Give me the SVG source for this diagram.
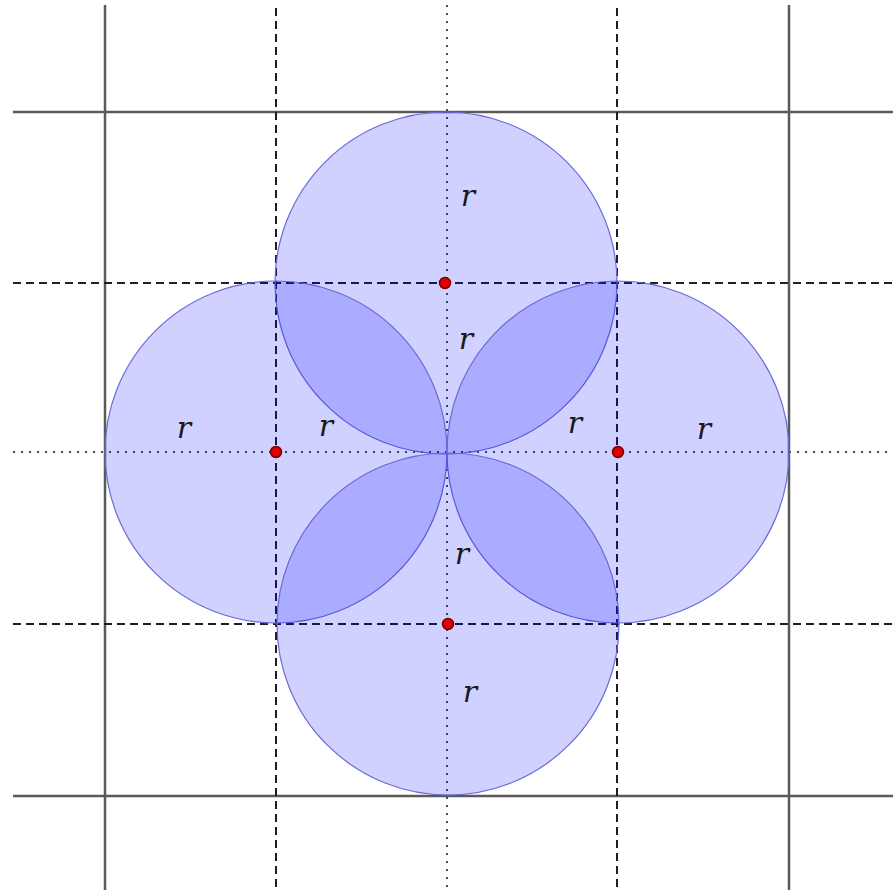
<svg xmlns="http://www.w3.org/2000/svg" width="893" height="890" viewBox="0 0 893 890">
<style>
.solid{stroke:#5a5a5a;stroke-width:2.5;fill:none}
.dash{stroke:#1e1e28;stroke-width:2;stroke-dasharray:8 5;fill:none}
.dot{stroke:#4a4a55;stroke-width:2;stroke-dasharray:2 6;fill:none}
.disk{fill:#0000ff;fill-opacity:0.18;stroke:#6a6ad8;stroke-width:1.2}
.ctr{fill:#e00000;stroke:#7a0000;stroke-width:1.5}
.lbl{font-family:"DejaVu Serif","Liberation Serif",serif;font-style:italic;font-size:30px;fill:#1a1a1a;text-anchor:middle}
</style>
<rect width="893" height="890" fill="#ffffff"/>
<g id="connectors">
<line class="solid" x1="105" y1="5" x2="105" y2="890"/>
<line class="solid" x1="789" y1="5" x2="789" y2="890"/>
<line class="solid" x1="13" y1="112" x2="893" y2="112"/>
<line class="solid" x1="13" y1="796" x2="893" y2="796"/>
<line class="dash" x1="276" y1="8" x2="276" y2="890"/>
<line class="dash" x1="617" y1="8" x2="617" y2="890"/>
<line class="dash" x1="13" y1="283" x2="893" y2="283"/>
<line class="dash" x1="13" y1="624" x2="893" y2="624"/>
<line class="dot" x1="447" y1="5" x2="447" y2="890"/>
<line class="dot" x1="13" y1="452" x2="893" y2="452"/>
</g>
<g id="circle-top"><circle class="disk" cx="446" cy="283" r="171"/></g>
<g id="circle-left"><circle class="disk" cx="276" cy="452" r="171"/></g>
<g id="circle-right"><circle class="disk" cx="618" cy="452" r="171"/></g>
<g id="circle-bottom"><circle class="disk" cx="448" cy="624" r="171"/></g>
<g id="centers">
<circle class="ctr" cx="445" cy="283" r="5.5"/>
<circle class="ctr" cx="276" cy="452" r="5.5"/>
<circle class="ctr" cx="618" cy="452" r="5.5"/>
<circle class="ctr" cx="448" cy="624" r="5.5"/>
</g>
<g id="labels">
<text class="lbl" x="468" y="206">r</text>
<text class="lbl" x="466" y="349">r</text>
<text class="lbl" x="184" y="438">r</text>
<text class="lbl" x="326" y="436">r</text>
<text class="lbl" x="575" y="433">r</text>
<text class="lbl" x="704" y="439">r</text>
<text class="lbl" x="462" y="564">r</text>
<text class="lbl" x="470" y="702">r</text>
</g>
</svg>
